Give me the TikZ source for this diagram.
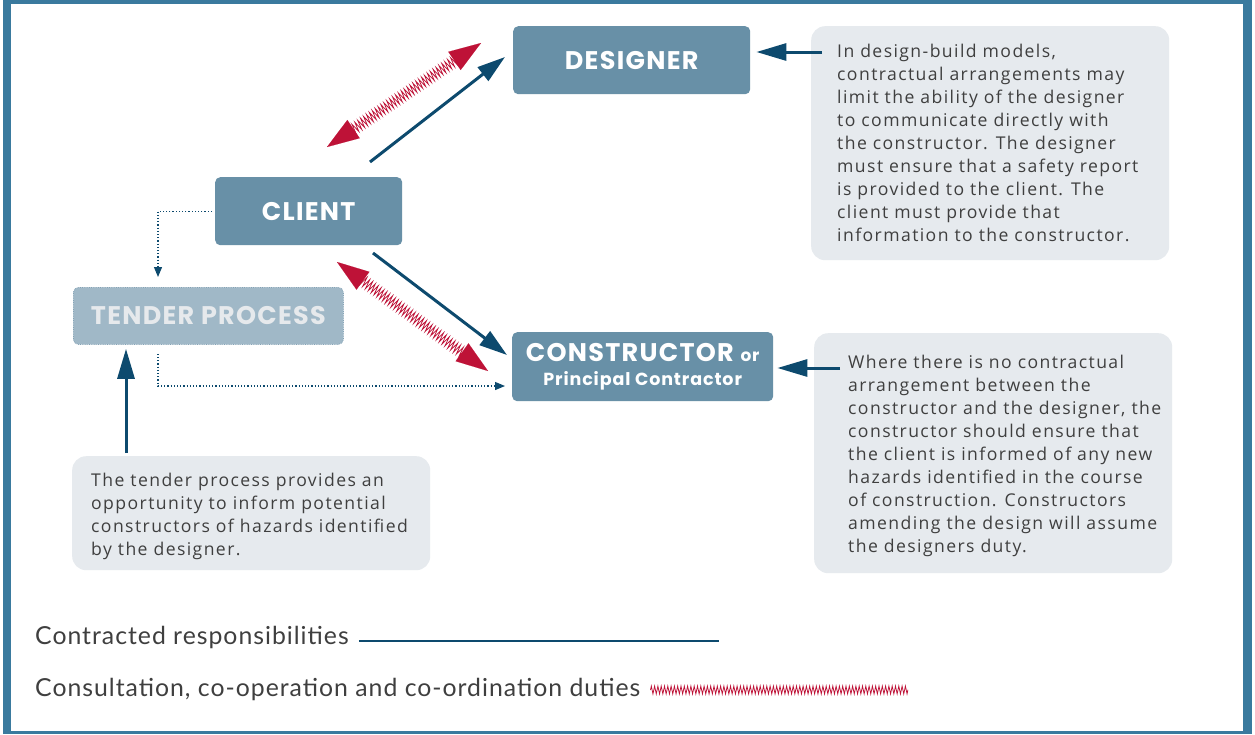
\documentclass[tikz,border=0pt]{standalone}
\usepackage{fontspec}
\setmainfont[LetterSpace=8]{Open Sans}
\newfontfamily\headfont[LetterSpace=5]{Poppins}
\newfontfamily\legfont[LetterSpace=4]{Lato}
\usetikzlibrary{arrows.meta,decorations.pathmorphing,calc}
\definecolor{frameblue}{HTML}{3A7A9E}
\definecolor{nodefill}{HTML}{6890A7}
\definecolor{tenderfill}{HTML}{A0B8C7}
\definecolor{tendertext}{HTML}{E6E9EC}
\definecolor{infofill}{HTML}{E6EAEE}
\definecolor{navy}{HTML}{0D4A6E}
\definecolor{springred}{HTML}{BE1237}
\definecolor{bodytext}{HTML}{3F3F3F}
\tikzset{
  mainbox/.style={fill=nodefill, rounded corners=5pt, text=white, font=\headfont\bfseries\fontsize{25.5}{27}\selectfont, inner sep=0pt},
  infobox/.style={fill=infofill, rounded corners=14pt, inner sep=0pt},
  bodytxt/.style={text=bodytext, font=\fontsize{17.6}{23}\selectfont, align=left, anchor=north west, inner sep=0pt},
  navyarrow/.style={draw=navy, line width=3pt, -{Triangle[length=28pt,width=17pt]}},
  sidearrow/.style={draw=navy, line width=3pt, -{Triangle[length=30pt,width=17pt]}},
  dotarrow/.style={draw=navy, line width=1.2pt, dotted, -{Triangle[length=10pt,width=8pt]}},
  spring/.style={draw=springred, line width=0.75pt, decorate, decoration={zigzag, amplitude=5pt, segment length=3.5pt}},
  redtip/.style={draw=springred, fill=springred, line width=0.1pt, -{Triangle[length=32pt,width=22pt]}},
  legtxt/.style={anchor=base west, inner sep=0pt, font=\legfont\fontsize{24.8}{26}\selectfont, text=bodytext},
}
\begin{document}
\begin{tikzpicture}[x=1pt,y=-1pt]
\useasboundingbox (0,0) rectangle (1255,734);
% frame
\fill[frameblue] (3,0) rectangle (1252,734);
\fill[white] (11,4) rectangle (1243,731);

% info boxes
\node[infobox, minimum width=358pt, minimum height=234pt, anchor=north west] (info1) at (811,26) {};
\node[infobox, minimum width=358pt, minimum height=240pt, anchor=north west] (info2) at (814,333) {};
\node[infobox, minimum width=358pt, minimum height=114pt, anchor=north west] (info3) at (72,456) {};

\node[bodytxt] (t1) at (837,44) {In design-build models,\\contractual arrangements may\\limit the ability of the designer\\to communicate directly with\\the constructor. The designer\\must ensure that a safety report\\is provided to the client. The\\client must provide that\\information to the constructor.};
\node[bodytxt] (t2) at (848,355) {Where there is no contractual\\arrangement between the\\constructor and the designer, the\\constructor should ensure that\\the client is informed of any new\\hazards identified in the course\\of construction. Constructors\\amending the design will assume\\the designers duty.};
\node[bodytxt] (t3) at (91,473) {The tender process provides an\\opportunity to inform potential\\constructors of hazards identified\\by the designer.};

% main nodes
\node[mainbox, minimum width=237pt, minimum height=68pt, anchor=north west] (designer) at (513,26) {DESIGNER};
\node[mainbox, minimum width=187pt, minimum height=68pt, anchor=north west] (client) at (215,177) {CLIENT};
\node[mainbox, minimum width=261pt, minimum height=69pt, anchor=north west, align=center] (constructor) at (512,332) {CONSTRUCTOR {\fontsize{17}{18}\selectfont or}\\[-3pt]{\fontsize{17.5}{18}\selectfont Principal Contractor}};
\node[mainbox, fill=tenderfill, draw=tenderfill!80!navy, densely dotted, line width=0.8pt, text=tendertext, minimum width=270pt, minimum height=57pt, anchor=north west] (tender) at (73,287) {TENDER PROCESS};

% contracted arrows
\coordinate (c1s) at (370,162);
\coordinate (c1e) at (505,57);
\coordinate (c2s) at (373,253);
\coordinate (c2e) at (507,355);
\draw[navyarrow] (c1s) -- (c1e);
\draw[navyarrow] (c2s) -- (c2e);

% springs
\coordinate (r1a) at (327,147);
\coordinate (r1b) at (481,43);
\coordinate (r2a) at (337,262);
\coordinate (r2b) at (488,371);
\foreach \a/\b in {r1a/r1b, r2a/r2b}{
  \draw[spring] ($(\a)!29pt!(\b)$) -- ($(\b)!29pt!(\a)$);
  \draw[redtip] ($(\a)!31pt!(\b)$) -- (\a);
  \draw[redtip] ($(\b)!31pt!(\a)$) -- (\b);
}

% side arrows
\draw[sidearrow] ($(info1.west |- 0,52)+(11,0)$) -- ($(designer.east |- 0,52)+(6,0)$);
\draw[sidearrow] ($(info2.west |- 0,368)+(26,0)$) -- ($(constructor.east |- 0,368)+(4,0)$);
\draw[sidearrow] ($(info3.north -| 126,0)+(0,-3)$) -- ($(tender.south -| 126,0)+(0,4)$);

% dotted arrows
\draw[dotarrow] ($(client.west)+(-3,0)$) -| ($(tender.north -| 158,0)+(0,-10)$);
\draw[dotarrow] ($(tender.south -| 158,0)+(0,9)$) |- ($(constructor.west |- 0,386)+(-7,0)$);

% legend
\node[legtxt] (leg1) at (35,644) {Contracted responsibilities};
\coordinate (leg1e) at (719,641);
\draw[navy, line width=2.5pt] ($(leg1.base east)+(10,-3)$) -- (leg1e);
\node[legtxt] (leg2) at (35,696) {Consultation, co-operation and co-ordination duties};
\coordinate (leg2e) at (908,690);
\draw[spring, decoration={zigzag, amplitude=4pt, segment length=3.3pt}] ($(leg2.base east)+(10,-6)$) -- (leg2e);
\end{tikzpicture}
\end{document}
